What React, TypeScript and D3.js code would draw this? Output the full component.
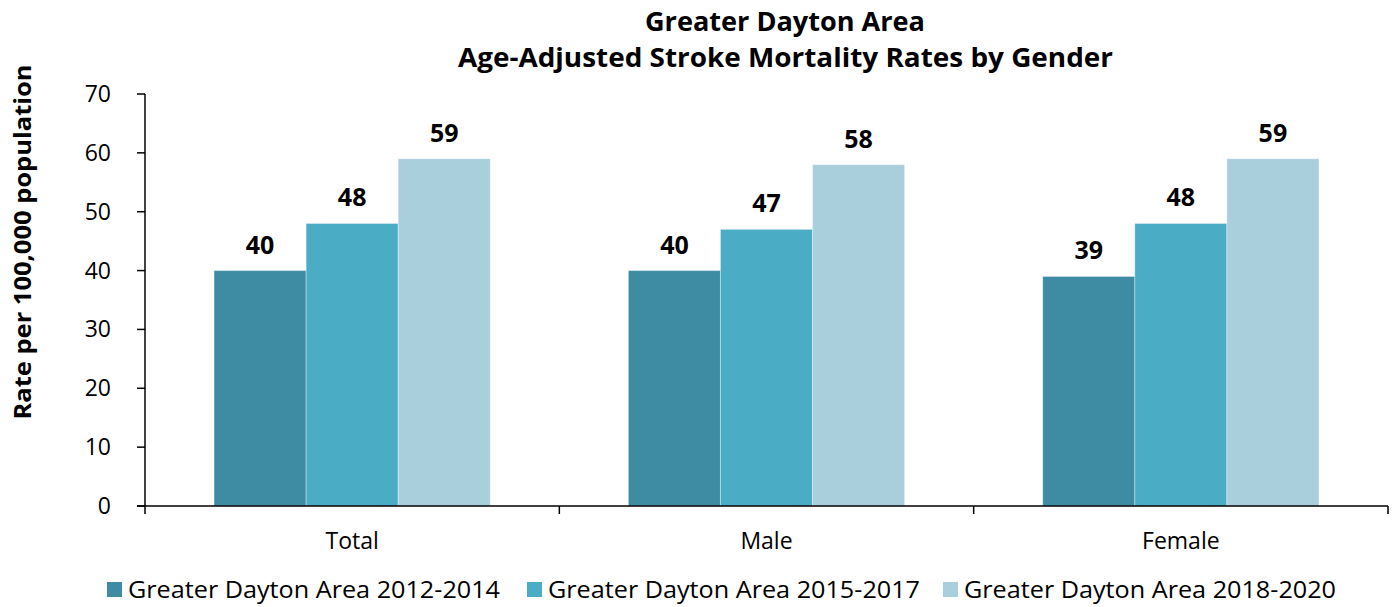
import React from "react";
import * as d3 from "d3";

const categories = ["Total", "Male", "Female"];
const seriesNames = [
  "Greater Dayton Area 2012-2014",
  "Greater Dayton Area 2015-2017",
  "Greater Dayton Area 2018-2020",
];
const values2012 = [40, 40, 39];
const values2015 = [48, 47, 48];
const values2018 = [59, 58, 59];
const yTicks = [0, 10, 20, 30, 40, 50, 60, 70];
const colors = ["#3E8CA3", "#4BACC6", "#A9CFDD"];

const W = 1400;
const H = 607;
const FONT = "'Open Sans', 'Noto Sans', sans-serif";

export default function App() {
  const series = [values2012, values2015, values2018];
  const left = 145;
  const right = 1388;
  const top = 94;
  const bottom = 506;
  const x = d3.scaleBand<string>().domain(categories).range([left, right]).paddingInner(1 / 3).paddingOuter(1 / 6);
  const xs = d3.scaleBand<number>().domain([0, 1, 2]).range([0, x.bandwidth()]);
  const y = d3.scaleLinear().domain([0, 70]).range([bottom, top]);
  const step = x.step();
  const boundaries = d3.range(categories.length + 1).map((i) => left + i * step);

  const legendX = [107, 527, 943];

  return (
    <svg width={W} height={H} style={{ position: "absolute", left: 0, top: 0, background: "#fff" }} fontFamily={FONT}>
      <text x={785} y={31} textAnchor="middle" fontSize={27} fontWeight="bold" fill="#000" textLength={280} lengthAdjust="spacingAndGlyphs">Greater Dayton Area</text>
      <text x={785.5} y={67} textAnchor="middle" fontSize={27} fontWeight="bold" fill="#000" textLength={655} lengthAdjust="spacingAndGlyphs">Age-Adjusted Stroke Mortality Rates by Gender</text>
      <text transform={`translate(31,242) rotate(-90)`} textAnchor="middle" fontSize={24} fontWeight="bold" fill="#000" textLength={355} lengthAdjust="spacingAndGlyphs">Rate per 100,000 population</text>

      {series.map((vals, si) =>
        categories.map((c, ci) => {
          const bx = (x(c) as number) + (xs(si) as number);
          const by = y(vals[ci]);
          return (
            <g key={`${si}-${ci}`}>
              <rect x={bx} y={by} width={xs.bandwidth()} height={bottom - by} fill={colors[si]} stroke="#ffffff" strokeOpacity={0.35} strokeWidth={1} />
              <text x={bx + xs.bandwidth() / 2} y={by - 17} textAnchor="middle" fontSize={25} fontWeight="bold" fill="#000">{vals[ci]}</text>
            </g>
          );
        })
      )}

      <line x1={left} x2={left} y1={top} y2={bottom} stroke="#000" strokeWidth={1.5} />
      {yTicks.map((t) => (
        <g key={t}>
          <line x1={137} x2={left} y1={y(t)} y2={y(t)} stroke="#000" strokeWidth={1.5} />
          <text x={111} y={y(t) + 8} textAnchor="end" fontSize={23} fill="#000">{t}</text>
        </g>
      ))}
      <line x1={137} x2={right} y1={bottom} y2={bottom} stroke="#000" strokeWidth={1.5} />
      {boundaries.map((b, i) => (
        <line key={i} x1={b} x2={b} y1={bottom} y2={514} stroke="#000" strokeWidth={1.5} />
      ))}
      {categories.map((c) => (
        <text key={c} x={(x(c) as number) + x.bandwidth() / 2} y={549} textAnchor="middle" fontSize={23} fill="#000">{c}</text>
      ))}

      {seriesNames.map((s, i) => (
        <g key={s}>
          <rect x={legendX[i]} y={582} width={15} height={15} fill={colors[i]} />
          <text x={legendX[i] + 21} y={598} fontSize={23} fill="#000" textLength={372} lengthAdjust="spacingAndGlyphs">{s}</text>
        </g>
      ))}
    </svg>
  );
}
